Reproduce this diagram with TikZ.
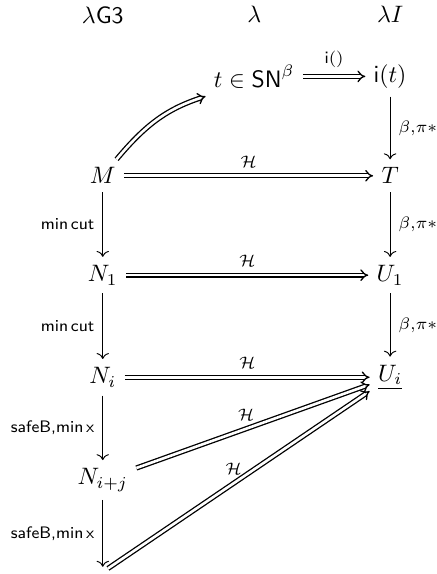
\documentclass[tikz,border=0pt]{standalone}
\usepackage{amssymb,amsmath}
\usepackage{tikz}
\usetikzlibrary{positioning,arrows.meta,calc}

\begin{document}
\begin{tikzpicture}[
  node distance=1.47cm, on grid,
  lbl/.style={font=\scriptsize},
  arr/.style={-{To}},
  dbl/.style={double, line width=0.55pt, double distance=1.1pt, -{Implies}}
]
  \useasboundingbox (-1.52,2.60) rectangle (4.93,-5.89);
  % left column
  \node (M) {$M$};
  \node[below=of M] (N1) {$N_1$};
  \node[below=1.51cm of N1] (Ni) {$N_i$};
  \node[below=1.52cm of Ni] (Nij) {$N_{i+j}$};
  \node[below=1.36cm of Nij, inner sep=2pt] (Nk) {};
  % right column
  \node[right=4.25cm of M] (T) {$T$};
  \node[right=4.25cm of N1] (U1) {$U_1$};
  \node[right=4.25cm of Ni] (Ui) {$\underline{U_i}$};
  \node[above=of T] (it) {$\mathsf{i}(t)$};
  \node[left=2.01cm of it] (t) {$t \in \mathsf{SN}^\beta$};
  % column heads
  \node[above=2.38cm of M] (hG3) {$\lambda\mathsf{G3}$};
  \node[above=0.92cm of t] (hlam) {$\lambda$};
  \node[above=0.92cm of it] (hI) {$\lambda I$};
  % arrows
  \draw[dbl] (M) to[out=50, in=198] (t.south west);
  \draw[dbl] (t) -- node[lbl, above] {$\mathsf{i}()$} (it);
  \draw[arr] (it) -- node[lbl, right] {$\beta{,}\pi{*}$} (T);
  \draw[dbl] (M) -- node[lbl, above] {$\mathcal{H}$} (T);
  \draw[arr] (M) -- node[lbl, left] {\textsf{min\,cut}} (N1);
  \draw[arr] (T) -- node[lbl, right] {$\beta{,}\pi{*}$} (U1);
  \draw[dbl] (N1) -- node[lbl, above] {$\mathcal{H}$} (U1);
  \draw[arr] (N1) -- node[lbl, left] {\textsf{min\,cut}} (Ni);
  \draw[arr] (U1) -- node[lbl, right] {$\beta{,}\pi{*}$} (Ui);
  \draw[dbl] (Ni) -- node[lbl, above] {$\mathcal{H}$} (Ui);
  \draw[arr] (Ni) -- node[lbl, left] {\textsf{safeB,min\,x}} (Nij);
  \draw[dbl] (Nij) -- node[lbl, above, pos=0.47] {$\mathcal{H}$} (Ui);
  \draw[arr] (Nij) -- node[lbl, left] {\textsf{safeB,min\,x}} (Nk);
  \draw[dbl] (Nk) -- node[lbl, above, pos=0.48] {$\mathcal{H}$} (Ui);
\end{tikzpicture}
\end{document}
